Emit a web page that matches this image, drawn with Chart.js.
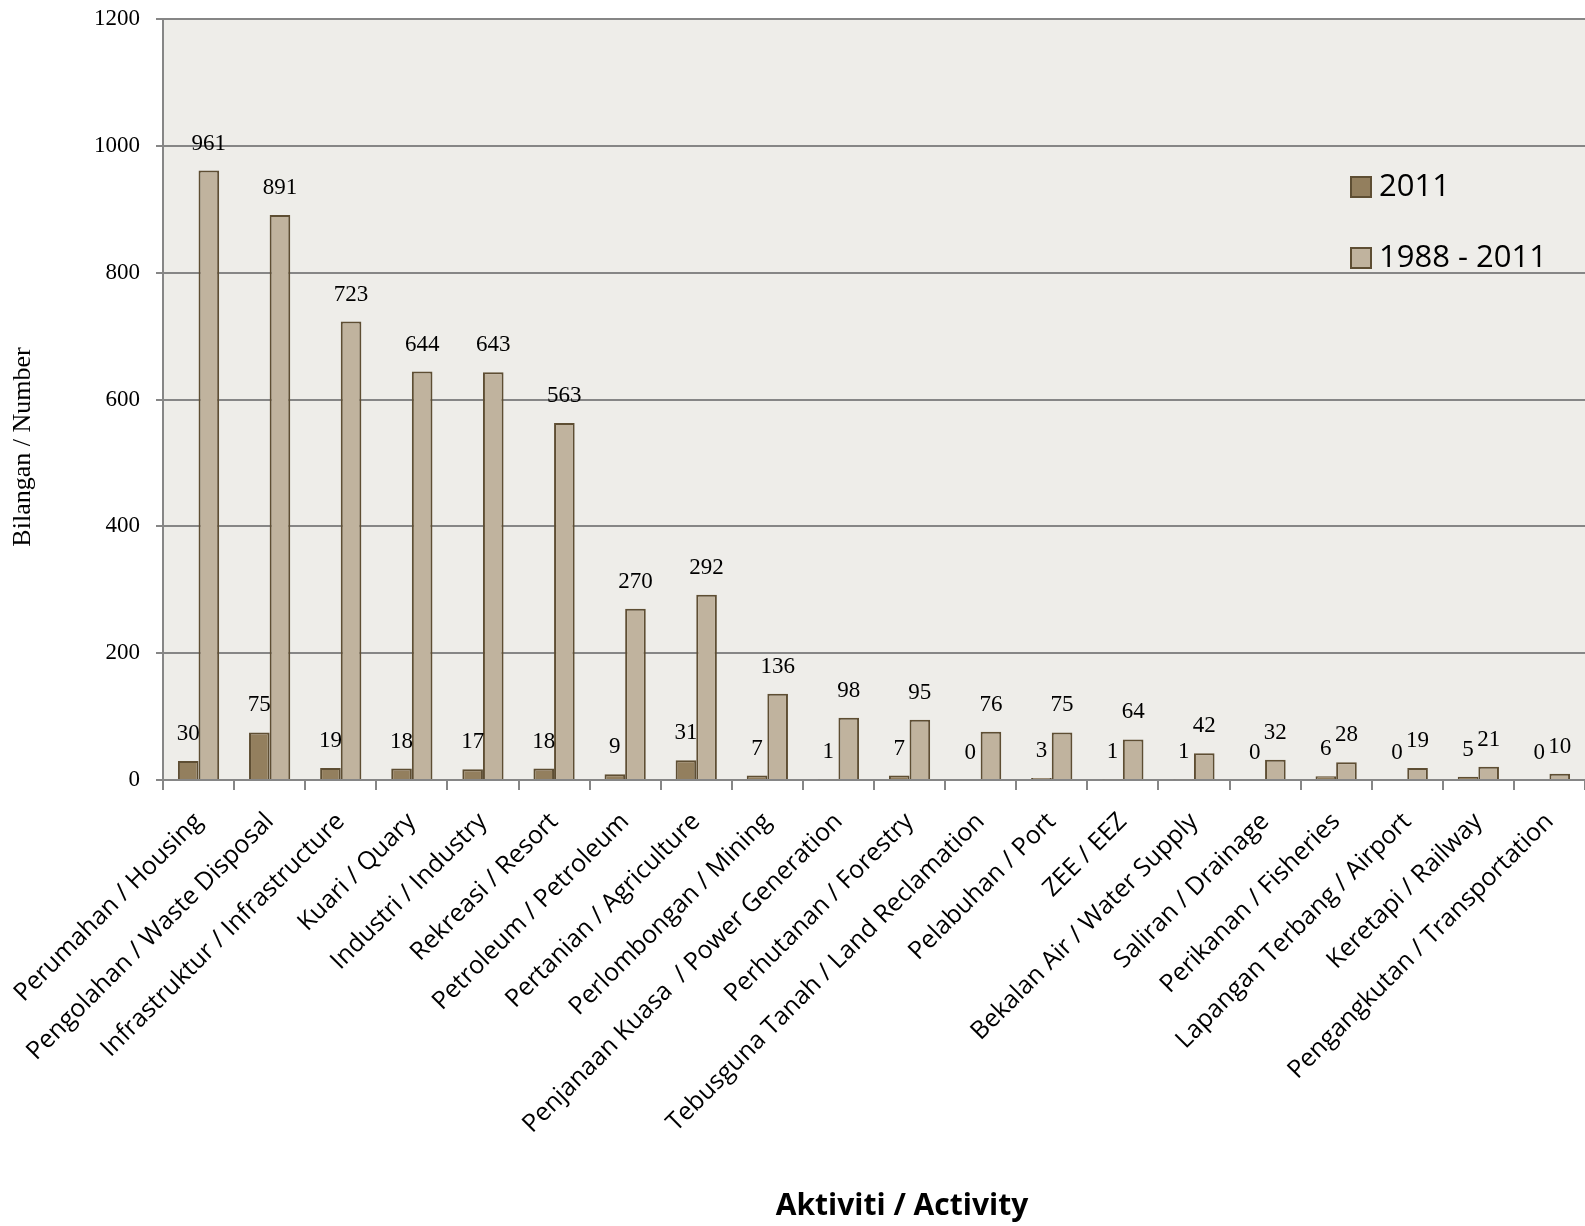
<!DOCTYPE html>
<html>
<head>
<meta charset="utf-8">
<script src="https://cdn.jsdelivr.net/npm/chart.js@4/dist/chart.umd.min.js"></script>
<style>
  body { margin: 0; background: #fff; }
</style>
</head>
<body>
<canvas id="myChart" width="1585" height="1226"></canvas>
<script>
let categories = ["Perumahan / Housing", "Pengolahan / Waste Disposal", "Infrastruktur / Infrastructure", "Kuari / Quary",
  "Industri / Industry", "Rekreasi / Resort", "Petroleum / Petroleum", "Pertanian / Agriculture", "Perlombongan / Mining",
  "Penjanaan Kuasa  / Power Generation", "Perhutanan / Forestry", "Tebusguna Tanah / Land Reclamation", "Pelabuhan / Port",
  "ZEE / EEZ", "Bekalan Air / Water Supply", "Saliran / Drainage", "Perikanan / Fisheries", "Lapangan Terbang / Airport",
  "Keretapi / Railway", "Pengangkutan / Transportation"];
let values2011 = [30, 75, 19, 18, 17, 18, 9, 31, 7, 1, 7, 0, 3, 1, 1, 0, 6, 0, 5, 0];
let values1988to2011 = [961, 891, 723, 644, 643, 563, 270, 292, 136, 98, 95, 76, 75, 64, 42, 32, 28, 19, 21, 10];
let yTicks = [0, 200, 400, 600, 800, 1000, 1200];

let barColors = ["#937f5e", "#c0b39e"];
let borderColor = "#5e4e33";
let gridColor = "#868686";

// plot background
const plotBg = {
  id: 'plotBg',
  beforeDraw(chart) {
    const { ctx, chartArea: a } = chart;
    ctx.save();
    ctx.fillStyle = '#eeede9';
    ctx.fillRect(a.left, a.top, a.right - a.left, a.bottom - a.top);
    ctx.restore();
  }
};

// numbers above the bars
const valueLabels = {
  id: 'valueLabels',
  afterDatasetsDraw(chart) {
    const ctx = chart.ctx;
    ctx.save();
    ctx.font = '23px "Liberation Serif"';
    ctx.fillStyle = '#000';
    ctx.textAlign = 'center';
    ctx.textBaseline = 'middle';
    chart.data.datasets.forEach((ds, i) => {
      chart.getDatasetMeta(i).data.forEach((bar, j) => {
        ctx.fillText(ds.data[j], bar.x, bar.y - 27);
      });
    });
    ctx.restore();
  }
};

// legend inside the plot, stacked
const sideLegend = {
  id: 'sideLegend',
  afterDraw(chart) {
    const ctx = chart.ctx;
    ctx.save();
    ctx.font = '31px "Open Sans"';
    ctx.textBaseline = 'middle';
    chart.data.datasets.forEach((ds, i) => {
      let y = 187 + i * 71;
      ctx.fillStyle = ds.backgroundColor;
      ctx.fillRect(1351, y - 10, 20, 20);
      ctx.strokeStyle = borderColor;
      ctx.lineWidth = 2;
      ctx.strokeRect(1351, y - 10, 20, 20);
      ctx.fillStyle = '#000';
      ctx.fillText(ds.label, 1379, y);
    });
    ctx.restore();
  }
};

// axis titles, placed where the original has them
const axisTitles = {
  id: 'axisTitles',
  afterDraw(chart) {
    const ctx = chart.ctx;
    ctx.save();
    ctx.fillStyle = '#000';
    ctx.textAlign = 'center';
    ctx.font = 'bold 30px "Open Sans"';
    ctx.textBaseline = 'alphabetic';
    ctx.fillText("Aktiviti / Activity", 902, 1215);
    ctx.translate(23, 447);
    ctx.rotate(-Math.PI / 2);
    ctx.textBaseline = 'middle';
    ctx.font = '26px "Liberation Serif"';
    ctx.fillText("Bilangan / Number", 0, 0);
    ctx.restore();
  }
};

new Chart("myChart", {
  type: "bar",
  data: {
    labels: categories,
    datasets: [
      { label: "2011", data: values2011, backgroundColor: barColors[0], borderColor: borderColor, borderWidth: 2 },
      { label: "1988 - 2011", data: values1988to2011, backgroundColor: barColors[1], borderColor: borderColor, borderWidth: 2 }
    ]
  },
  options: {
    responsive: false,
    animation: false,
    devicePixelRatio: 1,
    layout: { padding: { top: 19, right: 0, bottom: 0, left: 0 } },
    datasets: { bar: { categoryPercentage: 0.58, barPercentage: 1 } },
    plugins: {
      legend: { display: false },
      tooltip: { enabled: false }
    },
    scales: {
      x: {
        afterFit(scale) { scale.height = 446; scale.paddingLeft = 0; scale.paddingRight = 0; },
        grid: { offset: true, drawOnChartArea: false, tickLength: 10, color: gridColor, lineWidth: 2 },
        border: { color: gridColor, width: 2 },
        ticks: {
          autoSkip: false, maxRotation: 45, minRotation: 45,
          font: { family: '"Open Sans"', size: 25 }, color: '#000', padding: 17
        }
      },
      y: {
        min: 0, max: 1200,
        afterFit(scale) { scale.width = 163; scale.paddingTop = 0; scale.paddingBottom = 0; },
        afterBuildTicks(scale) { scale.ticks = yTicks.map(v => ({ value: v })); },
        grid: { color: gridColor, lineWidth: 2, tickLength: 7 },
        border: { color: gridColor, width: 2 },
        ticks: { font: { family: '"Liberation Serif"', size: 23 }, color: '#000', padding: 16, callback: v => String(v) }
      }
    }
  },
  plugins: [plotBg, valueLabels, sideLegend, axisTitles]
});
</script>
</body>
</html>
